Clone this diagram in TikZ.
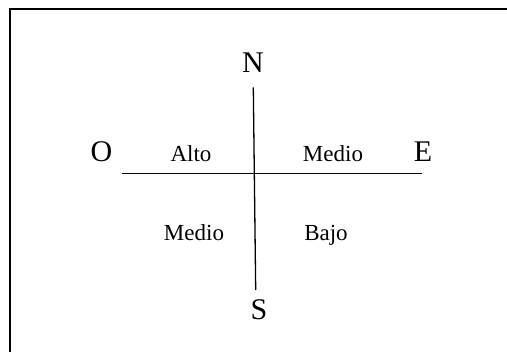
\documentclass[tikz,border=0pt]{standalone}
\usepackage{fontspec}
\setmainfont{Liberation Serif}
\begin{document}
\begin{tikzpicture}[x=1pt,y=-1pt,
  big/.style={inner sep=0pt,anchor=base,font=\fontsize{30}{34}\selectfont},
  small/.style={inner sep=0pt,anchor=base,font=\fontsize{23}{27}\selectfont},
  axis/.style={line width=1.3pt},
  frame/.style={line width=2pt}]
\useasboundingbox (0,0) rectangle (507,352);
\clip (0,0) rectangle (507,352);
\fill[white] (0,0) rectangle (507,352);
\draw[frame] (10,9.3) rectangle (530,370);
\node[big] (n) at (253,73) {N};
\node[big] (o) at (101.5,162) {O};
\node[big] (e) at (423,162) {E};
\node[big] (s) at (259,320) {S};
\node[small] (alto) at (191,162) {Alto};
\node[small] (medior) at (333,162) {Medio};
\node[small] (mediol) at (194,240.7) {Medio};
\node[small] (bajo) at (326,240.7) {Bajo};
\coordinate (vtop) at (253.3,87.3);
\coordinate (vbot) at (255.7,290);
\coordinate (hl) at (122.3,173.3);
\coordinate (hr) at (421.7,173.3);
\draw[axis] (vtop) -- (vbot);
\draw[axis] (hl) -- (hr);
\end{tikzpicture}
\end{document}
